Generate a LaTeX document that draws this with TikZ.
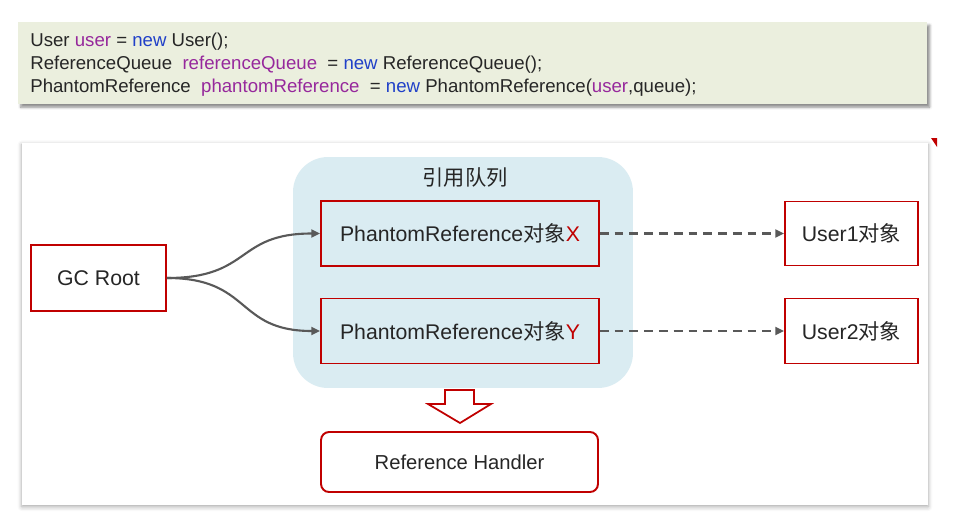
\documentclass[tikz,border=0pt]{standalone}
\usepackage{fontspec}
\setmainfont{Liberation Sans}
\newfontfamily\cjk{Noto Sans CJK SC}
\usepackage{xcolor}
\usepackage{tikz}
\usetikzlibrary{arrows.meta, positioning, shadows.blur}

\definecolor{boxred}{HTML}{C00000}
\definecolor{queueblue}{HTML}{DAECF2}
\definecolor{codebg}{HTML}{EBEFDE}
\definecolor{codevar}{HTML}{96289C}
\definecolor{codekey}{HTML}{2040C8}
\definecolor{linegray}{HTML}{595959}
\definecolor{textgray}{HTML}{262626}

\begin{document}
\begin{tikzpicture}[
    x=0.02cm, y=-0.02cm,
    box/.style={rectangle, draw=boxred, line width=1.1pt, minimum width=5.56cm, minimum height=1.3cm, align=center, text=textgray, font=\fontsize{12.1}{14}\selectfont},
    smallbox/.style={box, minimum width=2.66cm},
    handlerbox/.style={box, rounded corners=0.16cm, minimum width=5.54cm, minimum height=1.2cm, fill=white, font=\fontsize{11.5}{14}\selectfont},
    queuebox/.style={rectangle, rounded corners=0.7cm, fill=queueblue, minimum width=6.8cm, minimum height=4.62cm},
    arrow/.style={->, >={Triangle[length=5pt, width=4.5pt]}, line width=1.2pt, draw=linegray},
    dasharrow/.style={arrow, dash pattern=on 5pt off 3.4pt},
    hollow/.style={draw=boxred, line width=1pt, fill=white, line join=miter}
]
\useasboundingbox (0,0) rectangle (956,521);

\fill[codebg, blur shadow={shadow xshift=1.5pt, shadow yshift=-1.8pt, shadow blur radius=1.5pt, shadow opacity=45}] (18,22) rectangle (927,104);
\node[anchor=west, align=left, inner sep=0pt, text=textgray, font=\fontsize{10.6}{13}\selectfont] (code) at (30,65) {User \textcolor{codevar}{user} = \textcolor{codekey}{new} User();\\
ReferenceQueue\ \ \textcolor{codevar}{referenceQueue}\ \ = \textcolor{codekey}{new} ReferenceQueue();\\
PhantomReference\ \ \textcolor{codevar}{phantomReference}\ \ = \textcolor{codekey}{new} PhantomReference(\textcolor{codevar}{user},queue);};

\fill[white, blur shadow={shadow xshift=0pt, shadow yshift=-1pt, shadow blur radius=2.5pt, shadow opacity=35}] (22,143) rectangle (928,505);
\fill[boxred] (931,138) -- (937,138) -- (937,147) -- cycle;

\node[queuebox] (queue) at (463,272.5) {};
\node[text=textgray, font=\cjk\fontsize{12.1}{14}\selectfont] (queuelabel) at (465,177) {引用队列};

\node[box] (refx) at (460,233.5) {PhantomReference{\cjk 对象}\textcolor{boxred}{X}};
\node[box] (refy) at (460,331) {PhantomReference{\cjk 对象}\textcolor{boxred}{Y}};
\node[box, minimum width=2.7cm, minimum height=1.32cm] (gcroot) at (98.5,278) {GC Root};
\node[smallbox, minimum height=1.28cm] (user1) at (851.5,233.5) {User1{\cjk 对象}};
\node[smallbox] (user2) at (851.5,331) {User2{\cjk 对象}};
\node[handlerbox] (handler) at (459.5,462) {Reference Handler};

\draw[arrow] (gcroot.east) .. controls +(85,0) and +(-85,0) .. (refx.west);
\draw[arrow] (gcroot.east) .. controls +(85,0) and +(-85,0) .. (refy.west);
\draw[dasharrow] (refx) -- (user1);
\draw[dasharrow] (refy) -- (user2);

\draw[hollow] (445,390) -- (474,390) -- (474,404) -- (491,404) -- (460,423) -- (428,404) -- (445,404) -- cycle;

\end{tikzpicture}
\end{document}
